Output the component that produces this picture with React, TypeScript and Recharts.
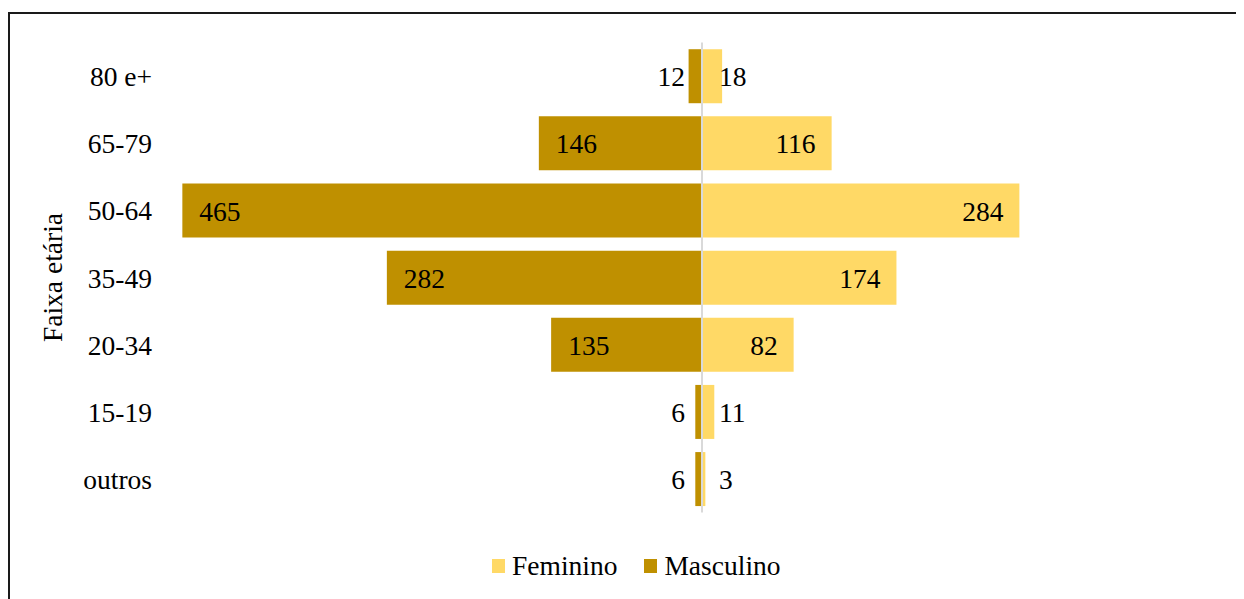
import React from 'react';
import { BarChart, Bar, XAxis, YAxis, ReferenceLine, LabelList, Legend } from 'recharts';

const categories = ['80 e+', '65-79', '50-64', '35-49', '20-34', '15-19', 'outros'];
const masculino = [12, 146, 465, 282, 135, 6, 6];
const feminino = [18, 116, 284, 174, 82, 11, 3];

const MASC_COLOR = '#BF9000';
const FEM_COLOR = '#FFD966';
const FONT = "'Liberation Serif', 'Times New Roman', serif";
const FS = 27.5;

const data = categories.map((c, i) => ({
  faixa: c,
  masculino: -masculino[i],
  feminino: feminino[i],
}));

const makeLabel = (side: 'm' | 'f') => (props: any) => {
  const { x, y, width, height, value } = props;
  const xn = Number(x);
  const wn = Number(width);
  const left = Math.min(xn, xn + wn);
  const right = Math.max(xn, xn + wn);
  const w = Math.abs(wn);
  const cy = Number(y) + Number(height) / 2 + 10;
  const v = Math.abs(Number(value));
  let tx: number;
  let anchor: 'start' | 'end';
  if (side === 'm') {
    if (w > 50) {
      tx = left + 17;
      anchor = 'start';
    } else {
      tx = right - 17;
      anchor = 'end';
    }
  } else {
    if (w > 50) {
      tx = right - 16;
      anchor = 'end';
    } else {
      tx = left + 17;
      anchor = 'start';
    }
  }
  return (
    <text x={tx} y={cy} textAnchor={anchor} fill="#000" fontSize={FS} fontFamily={FONT}>
      {v}
    </text>
  );
};

const CategoryTick = (props: any) => {
  const { x, y, payload } = props;
  return (
    <text x={Number(x)} y={Number(y) + 10} textAnchor="end" fill="#000" fontSize={FS} fontFamily={FONT}>
      {payload.value}
    </text>
  );
};

const legendItems = [
  { name: 'Feminino', color: FEM_COLOR },
  { name: 'Masculino', color: MASC_COLOR },
];

const LegendContent = () => (
  <div style={{ display: 'flex', alignItems: 'center', height: 30, marginLeft: 482, fontFamily: FONT, fontSize: FS, color: '#000' }}>
    {legendItems.map((it, i) => (
      <div key={it.name} style={{ display: 'flex', alignItems: 'center', marginRight: i === 0 ? 27 : 0 }}>
        <div style={{ width: 13, height: 14, background: it.color, marginRight: 7 }} />
        <span style={{ lineHeight: '30px' }}>{it.name}</span>
      </div>
    ))}
  </div>
);

const YLabel = () => (
  <text x={52} y={263.5} transform="rotate(-90, 52, 263.5)" textAnchor="middle" fill="#000" fontSize={FS} fontFamily={FONT}>
    Faixa etária
  </text>
);

export default function App() {
  return (
    <div style={{ paddingTop: 4, width: 1236, height: 587, overflow: 'hidden' }}>
      <div style={{ border: '2px solid #1a1a1a', width: 1260, height: 600, background: '#fff', boxSizing: 'border-box' }}>
        <BarChart
          width={1234}
          height={590}
          data={data}
          layout="vertical"
          stackOffset="sign"
          barCategoryGap="10%"
          margin={{ top: 28.5, right: 0, bottom: 61.5, left: 0 }}
          style={{ fontFamily: FONT }}
        >
          <XAxis type="number" hide domain={[-485, 485]} />
          <YAxis
            type="category"
            dataKey="faixa"
            width={150}
            axisLine={false}
            tickLine={false}
            tickSize={0}
            tickMargin={8}
            tick={<CategoryTick />}
            label={<YLabel />}
          />
          <Legend verticalAlign="bottom" content={<LegendContent />} wrapperStyle={{ top: 537 }} />
          <Bar dataKey="feminino" name="Feminino" stackId="a" fill={FEM_COLOR} isAnimationActive={false}>
            <LabelList dataKey="feminino" content={makeLabel('f')} />
          </Bar>
          <Bar dataKey="masculino" name="Masculino" stackId="a" fill={MASC_COLOR} isAnimationActive={false}>
            <LabelList dataKey="masculino" content={makeLabel('m')} />
          </Bar>
          <ReferenceLine x={0} stroke="#d9d9d9" strokeWidth={2} />
        </BarChart>
      </div>
    </div>
  );
}
